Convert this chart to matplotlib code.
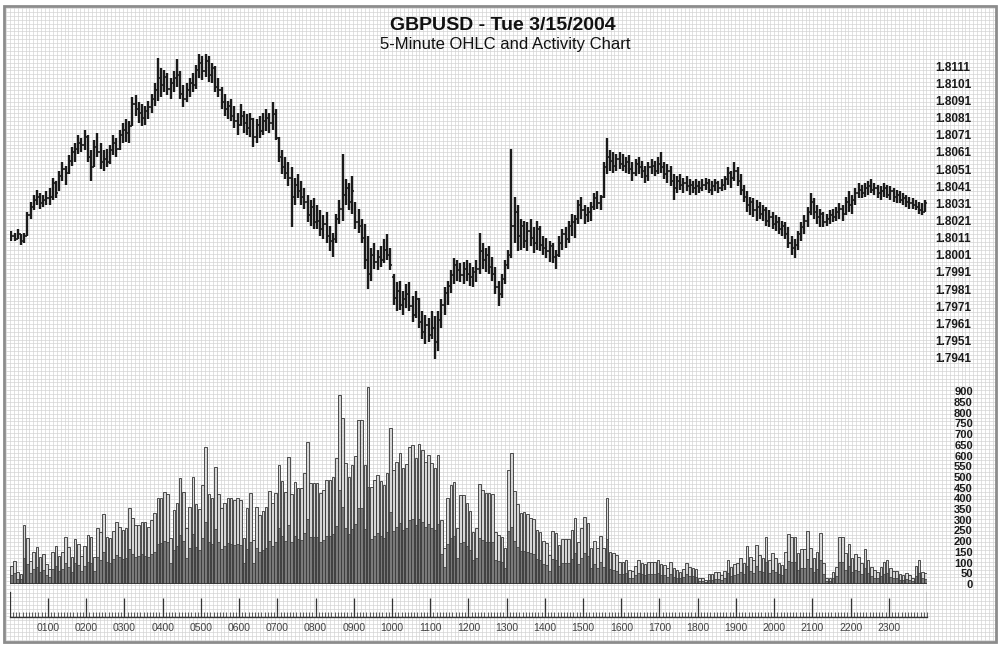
import numpy as np
import matplotlib.pyplot as plt
from matplotlib.patches import Rectangle

plt.rcParams['font.family'] = ['Liberation Sans', 'DejaVu Sans']

# GBPUSD 5-minute bars, 00:00 .. 23:55 (12 bars per row = one hour)
bar_open = [
    1.8010, 1.8012, 1.8010, 1.8013, 1.8009, 1.8012, 1.8024, 1.8029, 1.8033, 1.8035, 1.8031, 1.8033,
    1.8034, 1.8035, 1.8043, 1.8039, 1.8047, 1.8051, 1.8049, 1.8056, 1.8061, 1.8063, 1.8066, 1.8065,
    1.8070, 1.8058, 1.8052, 1.8064, 1.8061, 1.8055, 1.8057, 1.8055, 1.8062, 1.8066, 1.8063, 1.8071,
    1.8074, 1.8072, 1.8076, 1.8089, 1.8086, 1.8084, 1.8081, 1.8085, 1.8087, 1.8092, 1.8097, 1.8104,
    1.8100, 1.8105, 1.8098, 1.8101, 1.8104, 1.8106, 1.8095, 1.8092, 1.8097, 1.8101, 1.8100, 1.8109,
    1.8113, 1.8108, 1.8114, 1.8106, 1.8110, 1.8099, 1.8097, 1.8090, 1.8086, 1.8088, 1.8082, 1.8079,
    1.8077, 1.8082, 1.8078, 1.8075, 1.8080, 1.8070, 1.8077, 1.8073, 1.8079, 1.8081, 1.8078, 1.8083,
    1.8069, 1.8058, 1.8052, 1.8049, 1.8046, 1.8035, 1.8042, 1.8038, 1.8035, 1.8032, 1.8024, 1.8029,
    1.8020, 1.8021, 1.8016, 1.8019, 1.8012, 1.8009, 1.8010, 1.8022, 1.8028, 1.8036, 1.8040, 1.8032,
    1.8030, 1.8020, 1.8018, 1.8011, 1.7998, 1.7990, 1.8001, 1.7997, 1.8000, 1.7998, 1.8004, 1.8001,
    1.7988, 1.7976, 1.7980, 1.7972, 1.7975, 1.7978, 1.7971, 1.7966, 1.7975, 1.7962, 1.7956, 1.7960,
    1.7954, 1.7958, 1.7950, 1.7963, 1.7972, 1.7979, 1.7983, 1.7989, 1.7995, 1.7992, 1.7989, 1.7993,
    1.7990, 1.7988, 1.7991, 1.7993, 1.8003, 1.7998, 1.8001, 1.7994, 1.7990, 1.7982, 1.7978, 1.7987,
    1.7995, 1.8001, 1.8018, 1.8026, 1.8012, 1.8018, 1.8009, 1.8015, 1.8011, 1.8008, 1.8016, 1.8007,
    1.8005, 1.8003, 1.8006, 1.8000, 1.8001, 1.8008, 1.8013, 1.8010, 1.8018, 1.8020, 1.8022, 1.8030,
    1.8027, 1.8024, 1.8026, 1.8029, 1.8034, 1.8031, 1.8035, 1.8052, 1.8058, 1.8056, 1.8053, 1.8057,
    1.8054, 1.8053, 1.8055, 1.8051, 1.8049, 1.8054, 1.8052, 1.8050, 1.8047, 1.8052, 1.8053, 1.8050,
    1.8054, 1.8052, 1.8048, 1.8050, 1.8044, 1.8040, 1.8044, 1.8042, 1.8043, 1.8041, 1.8042, 1.8040,
    1.8041, 1.8040, 1.8042, 1.8043, 1.8039, 1.8041, 1.8043, 1.8040, 1.8042, 1.8045, 1.8049, 1.8046,
    1.8050, 1.8044, 1.8039, 1.8035, 1.8030, 1.8032, 1.8027, 1.8029, 1.8025, 1.8027, 1.8021, 1.8023,
    1.8019, 1.8020, 1.8016, 1.8018, 1.8013, 1.8008, 1.8005, 1.8007, 1.8013, 1.8017, 1.8021, 1.8026,
    1.8032, 1.8026, 1.8023, 1.8025, 1.8020, 1.8022, 1.8024, 1.8023, 1.8026, 1.8028, 1.8025, 1.8032,
    1.8030, 1.8033, 1.8037, 1.8039, 1.8037, 1.8040, 1.8041, 1.8039, 1.8040, 1.8037, 1.8038, 1.8040,
    1.8036, 1.8038, 1.8035, 1.8036, 1.8033, 1.8034, 1.8032, 1.8031, 1.8030, 1.8029, 1.8027, 1.8026,
]
bar_high = [
    1.8015, 1.8014, 1.8016, 1.8013, 1.8014, 1.8026, 1.8032, 1.8036, 1.8039, 1.8037, 1.8036, 1.8038,
    1.8040, 1.8046, 1.8044, 1.8050, 1.8055, 1.8053, 1.8059, 1.8064, 1.8066, 1.8071, 1.8069, 1.8074,
    1.8071, 1.8062, 1.8068, 1.8072, 1.8066, 1.8062, 1.8063, 1.8065, 1.8071, 1.8069, 1.8074, 1.8078,
    1.8080, 1.8079, 1.8093, 1.8094, 1.8090, 1.8089, 1.8088, 1.8091, 1.8095, 1.8101, 1.8116, 1.8110,
    1.8109, 1.8107, 1.8104, 1.8108, 1.8115, 1.8108, 1.8100, 1.8101, 1.8104, 1.8107, 1.8112, 1.8118,
    1.8117, 1.8118, 1.8117, 1.8113, 1.8111, 1.8104, 1.8099, 1.8095, 1.8091, 1.8092, 1.8088, 1.8084,
    1.8089, 1.8085, 1.8083, 1.8084, 1.8081, 1.8080, 1.8082, 1.8084, 1.8086, 1.8084, 1.8090, 1.8086,
    1.8070, 1.8062, 1.8058, 1.8055, 1.8052, 1.8046, 1.8048, 1.8044, 1.8040, 1.8036, 1.8033, 1.8034,
    1.8030, 1.8027, 1.8024, 1.8026, 1.8018, 1.8014, 1.8025, 1.8033, 1.8060, 1.8045, 1.8043, 1.8047,
    1.8032, 1.8028, 1.8022, 1.8019, 1.8012, 1.8005, 1.8008, 1.8004, 1.8006, 1.8010, 1.8013, 1.8005,
    1.7990, 1.7985, 1.7986, 1.7980, 1.7984, 1.7985, 1.7977, 1.7980, 1.7976, 1.7968, 1.7966, 1.7964,
    1.7968, 1.7965, 1.7968, 1.7975, 1.7982, 1.7986, 1.7992, 1.7999, 1.7998, 1.7996, 1.7997, 1.7998,
    1.7996, 1.7994, 1.7998, 1.8014, 1.8008, 1.8005, 1.8006, 1.8000, 1.7994, 1.7986, 1.7990, 1.7998,
    1.8004, 1.8063, 1.8035, 1.8030, 1.8022, 1.8021, 1.8020, 1.8022, 1.8017, 1.8021, 1.8018, 1.8012,
    1.8011, 1.8009, 1.8008, 1.8004, 1.8012, 1.8016, 1.8017, 1.8021, 1.8025, 1.8024, 1.8033, 1.8035,
    1.8030, 1.8029, 1.8032, 1.8037, 1.8038, 1.8036, 1.8055, 1.8069, 1.8062, 1.8061, 1.8060, 1.8061,
    1.8060, 1.8058, 1.8059, 1.8055, 1.8057, 1.8058, 1.8056, 1.8053, 1.8055, 1.8057, 1.8056, 1.8058,
    1.8061, 1.8055, 1.8054, 1.8053, 1.8048, 1.8047, 1.8048, 1.8046, 1.8047, 1.8045, 1.8044, 1.8045,
    1.8044, 1.8045, 1.8046, 1.8045, 1.8044, 1.8045, 1.8044, 1.8045, 1.8047, 1.8052, 1.8050, 1.8055,
    1.8052, 1.8048, 1.8042, 1.8038, 1.8035, 1.8034, 1.8033, 1.8032, 1.8030, 1.8029, 1.8027, 1.8026,
    1.8024, 1.8023, 1.8021, 1.8020, 1.8017, 1.8012, 1.8010, 1.8015, 1.8020, 1.8024, 1.8029, 1.8037,
    1.8034, 1.8030, 1.8028, 1.8026, 1.8025, 1.8027, 1.8028, 1.8029, 1.8031, 1.8030, 1.8035, 1.8038,
    1.8036, 1.8040, 1.8043, 1.8042, 1.8043, 1.8044, 1.8045, 1.8043, 1.8042, 1.8041, 1.8043, 1.8042,
    1.8041, 1.8040, 1.8039, 1.8038, 1.8037, 1.8036, 1.8035, 1.8034, 1.8033, 1.8032, 1.8031, 1.8033,
]
bar_low = [
    1.8009, 1.8009, 1.8010, 1.8007, 1.8008, 1.8012, 1.8022, 1.8027, 1.8030, 1.8028, 1.8029, 1.8030,
    1.8030, 1.8033, 1.8034, 1.8038, 1.8044, 1.8042, 1.8048, 1.8053, 1.8055, 1.8060, 1.8061, 1.8062,
    1.8055, 1.8044, 1.8052, 1.8058, 1.8051, 1.8050, 1.8052, 1.8054, 1.8059, 1.8058, 1.8062, 1.8066,
    1.8067, 1.8066, 1.8076, 1.8082, 1.8078, 1.8076, 1.8077, 1.8080, 1.8084, 1.8088, 1.8091, 1.8093,
    1.8096, 1.8094, 1.8092, 1.8096, 1.8099, 1.8092, 1.8087, 1.8090, 1.8093, 1.8096, 1.8098, 1.8104,
    1.8103, 1.8105, 1.8102, 1.8101, 1.8096, 1.8093, 1.8086, 1.8082, 1.8080, 1.8079, 1.8075, 1.8071,
    1.8076, 1.8072, 1.8071, 1.8070, 1.8064, 1.8066, 1.8069, 1.8071, 1.8073, 1.8072, 1.8074, 1.8068,
    1.8055, 1.8048, 1.8045, 1.8041, 1.8017, 1.8030, 1.8034, 1.8030, 1.8028, 1.8020, 1.8018, 1.8016,
    1.8016, 1.8012, 1.8010, 1.8008, 1.8003, 1.8000, 1.8008, 1.8019, 1.8021, 1.8030, 1.8027, 1.8025,
    1.8016, 1.8014, 1.8008, 1.7993, 1.7981, 1.7986, 1.7993, 1.7992, 1.7994, 1.7996, 1.7998, 1.7992,
    1.7972, 1.7968, 1.7969, 1.7966, 1.7970, 1.7968, 1.7962, 1.7964, 1.7958, 1.7952, 1.7949, 1.7950,
    1.7952, 1.7940, 1.7945, 1.7958, 1.7966, 1.7972, 1.7979, 1.7984, 1.7986, 1.7985, 1.7984, 1.7986,
    1.7983, 1.7982, 1.7985, 1.7990, 1.7993, 1.7991, 1.7990, 1.7986, 1.7978, 1.7971, 1.7976, 1.7984,
    1.7993, 1.7999, 1.8008, 1.8003, 1.8004, 1.8005, 1.8003, 1.8006, 1.8002, 1.8004, 1.8003, 1.8001,
    1.7999, 1.7997, 1.7996, 1.7993, 1.8000, 1.8004, 1.8005, 1.8008, 1.8012, 1.8011, 1.8019, 1.8022,
    1.8019, 1.8020, 1.8021, 1.8027, 1.8028, 1.8027, 1.8034, 1.8048, 1.8050, 1.8049, 1.8050, 1.8051,
    1.8050, 1.8049, 1.8048, 1.8044, 1.8047, 1.8048, 1.8046, 1.8043, 1.8044, 1.8048, 1.8047, 1.8048,
    1.8049, 1.8045, 1.8043, 1.8041, 1.8033, 1.8037, 1.8039, 1.8037, 1.8038, 1.8036, 1.8037, 1.8036,
    1.8037, 1.8038, 1.8039, 1.8037, 1.8036, 1.8038, 1.8037, 1.8038, 1.8039, 1.8042, 1.8040, 1.8044,
    1.8041, 1.8036, 1.8032, 1.8026, 1.8024, 1.8023, 1.8021, 1.8022, 1.8021, 1.8018, 1.8017, 1.8016,
    1.8015, 1.8013, 1.8012, 1.8010, 1.8005, 1.8001, 1.7999, 1.8004, 1.8009, 1.8013, 1.8017, 1.8024,
    1.8022, 1.8019, 1.8017, 1.8017, 1.8018, 1.8019, 1.8020, 1.8021, 1.8022, 1.8021, 1.8024, 1.8026,
    1.8025, 1.8030, 1.8034, 1.8034, 1.8035, 1.8036, 1.8037, 1.8036, 1.8034, 1.8033, 1.8035, 1.8034,
    1.8033, 1.8032, 1.8031, 1.8031, 1.8030, 1.8029, 1.8028, 1.8028, 1.8027, 1.8025, 1.8024, 1.8026,
]
bar_close = [
    1.8012, 1.8010, 1.8013, 1.8009, 1.8012, 1.8024, 1.8029, 1.8033, 1.8035, 1.8031, 1.8033, 1.8034,
    1.8035, 1.8043, 1.8037, 1.8047, 1.8051, 1.8049, 1.8056, 1.8061, 1.8063, 1.8066, 1.8065, 1.8070,
    1.8058, 1.8052, 1.8064, 1.8061, 1.8055, 1.8057, 1.8055, 1.8062, 1.8066, 1.8063, 1.8071, 1.8074,
    1.8072, 1.8076, 1.8089, 1.8086, 1.8084, 1.8081, 1.8085, 1.8087, 1.8092, 1.8097, 1.8104, 1.8100,
    1.8105, 1.8098, 1.8101, 1.8104, 1.8106, 1.8095, 1.8092, 1.8097, 1.8101, 1.8100, 1.8109, 1.8113,
    1.8108, 1.8114, 1.8106, 1.8110, 1.8099, 1.8097, 1.8090, 1.8086, 1.8088, 1.8082, 1.8079, 1.8077,
    1.8082, 1.8078, 1.8075, 1.8080, 1.8070, 1.8077, 1.8073, 1.8079, 1.8081, 1.8078, 1.8083, 1.8071,
    1.8058, 1.8052, 1.8049, 1.8046, 1.8035, 1.8042, 1.8038, 1.8035, 1.8032, 1.8024, 1.8029, 1.8020,
    1.8021, 1.8016, 1.8019, 1.8012, 1.8009, 1.8010, 1.8022, 1.8028, 1.8036, 1.8040, 1.8032, 1.8038,
    1.8020, 1.8018, 1.8011, 1.7998, 1.7990, 1.8001, 1.7997, 1.8000, 1.7998, 1.8004, 1.8001, 1.7995,
    1.7976, 1.7980, 1.7972, 1.7975, 1.7978, 1.7971, 1.7966, 1.7975, 1.7962, 1.7956, 1.7960, 1.7954,
    1.7958, 1.7950, 1.7963, 1.7972, 1.7979, 1.7983, 1.7989, 1.7995, 1.7992, 1.7989, 1.7993, 1.7990,
    1.7988, 1.7991, 1.7993, 1.8003, 1.7998, 1.8001, 1.7994, 1.7990, 1.7982, 1.7978, 1.7987, 1.7995,
    1.8001, 1.8018, 1.8026, 1.8012, 1.8018, 1.8009, 1.8015, 1.8011, 1.8008, 1.8016, 1.8007, 1.8005,
    1.8003, 1.8006, 1.8000, 1.8001, 1.8008, 1.8013, 1.8010, 1.8018, 1.8020, 1.8022, 1.8030, 1.8027,
    1.8024, 1.8026, 1.8029, 1.8034, 1.8031, 1.8035, 1.8052, 1.8058, 1.8056, 1.8053, 1.8057, 1.8054,
    1.8053, 1.8055, 1.8051, 1.8049, 1.8054, 1.8052, 1.8050, 1.8047, 1.8052, 1.8053, 1.8050, 1.8054,
    1.8052, 1.8048, 1.8050, 1.8044, 1.8040, 1.8044, 1.8042, 1.8043, 1.8041, 1.8042, 1.8040, 1.8041,
    1.8040, 1.8042, 1.8043, 1.8039, 1.8041, 1.8043, 1.8040, 1.8042, 1.8045, 1.8049, 1.8046, 1.8050,
    1.8044, 1.8039, 1.8035, 1.8030, 1.8032, 1.8027, 1.8029, 1.8025, 1.8027, 1.8021, 1.8023, 1.8019,
    1.8020, 1.8016, 1.8018, 1.8013, 1.8008, 1.8005, 1.8007, 1.8013, 1.8017, 1.8021, 1.8026, 1.8032,
    1.8026, 1.8023, 1.8025, 1.8020, 1.8022, 1.8024, 1.8023, 1.8026, 1.8028, 1.8025, 1.8032, 1.8030,
    1.8033, 1.8037, 1.8039, 1.8037, 1.8040, 1.8041, 1.8039, 1.8040, 1.8037, 1.8038, 1.8040, 1.8036,
    1.8038, 1.8035, 1.8036, 1.8033, 1.8034, 1.8032, 1.8031, 1.8030, 1.8029, 1.8027, 1.8026, 1.8031,
]

# activity per bar: total ticks and the darker (down) part
activity_total = [
    86, 109, 55, 47, 275, 215, 109, 148, 171, 125, 140, 93,
    70, 151, 179, 132, 148, 221, 171, 125, 210, 187, 132, 179,
    229, 221, 125, 260, 244, 327, 221, 213, 247, 291, 268, 252,
    260, 353, 307, 276, 276, 291, 291, 265, 300, 330, 400, 400,
    428, 420, 213, 346, 377, 494, 430, 260, 360, 498, 373, 350,
    462, 641, 420, 400, 548, 420, 353, 380, 404, 400, 392, 403,
    392, 213, 353, 423, 205, 361, 322, 340, 361, 434, 380, 423,
    556, 480, 431, 594, 420, 478, 447, 447, 520, 661, 470, 470,
    470, 423, 440, 486, 486, 500, 587, 882, 774, 563, 500, 556,
    600, 766, 766, 556, 921, 455, 486, 509, 480, 462, 520, 727,
    532, 571, 610, 540, 560, 641, 649, 590, 652, 626, 571, 602,
    563, 540, 602, 300, 166, 400, 462, 478, 260, 416, 416, 380,
    341, 244, 260, 465, 440, 427, 427, 420, 244, 229, 220, 166,
    532, 610, 434, 376, 330, 335, 325, 307, 302, 252, 244, 200,
    190, 135, 247, 240, 182, 210, 210, 210, 250, 307, 197, 260,
    314, 283, 166, 200, 166, 226, 170, 403, 150, 143, 135, 104,
    104, 112, 65, 61, 85, 112, 100, 92, 104, 104, 104, 112,
    95, 89, 75, 104, 73, 65, 58, 70, 96, 80, 77, 70,
    30, 26, 19, 45, 45, 54, 54, 42, 60, 112, 80, 92,
    96, 120, 100, 179, 128, 110, 182, 135, 120, 218, 112, 143,
    120, 100, 89, 150, 232, 221, 221, 143, 163, 163, 247, 166,
    120, 150, 240, 96, 30, 30, 58, 80, 218, 218, 143, 185,
    120, 140, 128, 100, 163, 112, 80, 65, 58, 80, 104, 112,
    73, 60, 61, 45, 42, 51, 40, 30, 82, 112, 58, 50,
]
activity_down = [
    40, 52, 25, 22, 120, 95, 50, 70, 80, 55, 66, 42,
    33, 70, 85, 60, 72, 100, 80, 58, 96, 88, 60, 84,
    105, 100, 60, 125, 112, 150, 104, 98, 118, 135, 126, 115,
    122, 165, 140, 128, 130, 138, 132, 124, 142, 150, 185, 190,
    200, 195, 100, 160, 176, 230, 200, 120, 170, 232, 175, 160,
    215, 290, 195, 188, 255, 196, 165, 176, 190, 186, 180, 188,
    182, 100, 165, 198, 96, 168, 150, 158, 170, 200, 176, 196,
    260, 222, 200, 275, 195, 222, 208, 206, 240, 305, 218, 220,
    218, 196, 205, 225, 226, 232, 272, 440, 360, 262, 232, 258,
    278, 355, 356, 258, 455, 210, 226, 236, 222, 214, 242, 338,
    246, 265, 284, 250, 260, 298, 302, 274, 305, 290, 265, 280,
    262, 250, 280, 140, 78, 186, 215, 222, 120, 193, 194, 176,
    158, 113, 120, 216, 205, 198, 198, 195, 113, 106, 102, 77,
    248, 268, 202, 175, 153, 156, 151, 143, 140, 117, 113, 93,
    88, 63, 115, 112, 85, 98, 97, 98, 116, 143, 92, 121,
    146, 132, 77, 93, 77, 105, 79, 210, 70, 66, 63, 48,
    48, 52, 30, 28, 40, 52, 46, 43, 48, 48, 49, 52,
    44, 41, 35, 48, 34, 30, 27, 33, 45, 37, 36, 32,
    14, 12, 9, 21, 21, 25, 25, 20, 28, 52, 37, 43,
    45, 56, 46, 83, 60, 51, 85, 63, 56, 101, 52, 66,
    56, 46, 41, 70, 108, 103, 103, 66, 76, 76, 115, 77,
    56, 70, 112, 45, 14, 14, 27, 37, 101, 101, 66, 86,
    56, 65, 60, 46, 76, 52, 37, 30, 27, 37, 48, 52,
    34, 28, 28, 21, 20, 24, 19, 14, 38, 52, 27, 23,
]

price_ticks = [1.7941, 1.7951, 1.7961, 1.7971, 1.7981, 1.7991, 1.8001, 1.8011, 1.8021,
               1.8031, 1.8041, 1.8051, 1.8061, 1.8071, 1.8081, 1.8091, 1.8101, 1.8111]
activity_ticks = [0, 50, 100, 150, 200, 250, 300, 350, 400, 450, 500, 550,
                  600, 650, 700, 750, 800, 850, 900]
hour_labels = ['0100', '0200', '0300', '0400', '0500', '0600', '0700', '0800',
               '0900', '1000', '1100', '1200', '1300', '1400', '1500', '1600',
               '1700', '1800', '1900', '2000', '2100', '2200', '2300']

n_bars = len(bar_close)
x = np.arange(n_bars) + 0.5

W, H = 1000, 645
fig = plt.figure(figsize=(W / 100, H / 100), dpi=100)


def px_axes(left, top, right, bottom):
    # axes placed by pixel box
    return fig.add_axes([left / W, 1 - bottom / H, (right - left) / W, (bottom - top) / H])


# graph paper background + frame
bg = fig.add_axes([0, 0, 1, 1])
bg.set_xlim(0, W)
bg.set_ylim(H, 0)
bg.axis('off')
bg.vlines(np.arange(6, 995, 3.9), 7, 641, color='#d4d4d4', lw=0.5, zorder=0)
bg.hlines(np.arange(8, 641, 3.9), 5, 995, color='#d4d4d4', lw=0.5, zorder=0)
bg.add_patch(Rectangle((4, 6), 992, 636, fill=False, ec='#8c8c8c', lw=2.0))

fig.text(0.503, 1 - 25 / H, 'GBPUSD - Tue 3/15/2004', ha='center', va='center',
         fontsize=14, fontweight='bold', color='#111')
fig.text(0.505, 1 - 44.5 / H, '5-Minute OHLC and Activity Chart', ha='center', va='center',
         fontsize=12, color='#111')

# price panel
ax = px_axes(9.8, 50, 927, 365)
ax.set_facecolor('none')
ax.set_xlim(0, n_bars)
ax.set_ylim(1.79367, 1.81205)
for s in ax.spines.values():
    s.set_visible(False)
ax.vlines(x, bar_low, bar_high, color='#1a1a1a', lw=1.7)
ax.hlines(bar_open, x - 0.5, x, color='#1a1a1a', lw=1.2)
ax.hlines(bar_close, x, x + 0.5, color='#1a1a1a', lw=1.2)
ax.set_xticks([])
ax.yaxis.tick_right()
ax.set_yticks(price_ticks)
ax.set_yticklabels(['%.4f' % p for p in price_ticks])
ax.tick_params(axis='y', length=0, pad=5.8, labelsize=8.5, labelcolor='#1a1a1a')
for t in ax.get_yticklabels():
    t.set_fontweight('bold')

# activity panel
av = px_axes(9.8, 385, 927, 584)
av.set_facecolor('none')
av.set_xlim(0, n_bars)
av.set_ylim(0, 929.5)
for s in av.spines.values():
    s.set_visible(False)
av.bar(x, activity_total, width=0.82, color='#d6d6d6', edgecolor='#333333', lw=0.6)
av.bar(x, activity_down, width=0.82, color='#7a7a7a', edgecolor='#333333', lw=0.5)
av.axhline(0, color='#333333', lw=1.2)
av.set_xticks([])
av.yaxis.tick_right()
av.set_yticks(activity_ticks)
av.set_yticklabels([str(v) for v in activity_ticks])
av.tick_params(axis='y', length=0, pad=33, labelsize=8, labelcolor='#1a1a1a')
for t in av.get_yticklabels():
    t.set_ha('right')
    t.set_fontweight('bold')

# time axis
at = px_axes(9.8, 587, 927, 617)
at.set_facecolor('none')
at.set_xlim(0, n_bars)
at.set_ylim(0, 1)
for k in ('top', 'left', 'right'):
    at.spines[k].set_visible(False)
at.spines['bottom'].set_color('#333333')
at.spines['bottom'].set_linewidth(1.0)
at.set_yticks([])
at.set_xticks(np.arange(12, n_bars, 12))
at.set_xticklabels(hour_labels)
at.set_xticks(np.arange(0, n_bars + 1), minor=True)
at.tick_params(axis='x', which='major', direction='in', length=13.7, width=0.9,
               color='#333333', pad=4, labelsize=7.5, labelcolor='#444444')
at.tick_params(axis='x', which='minor', direction='in', length=3.6, width=0.6,
               color='#444444')
at.axvline(0, ymin=0, ymax=25 / 30, color='#333333', lw=0.9)
at.axvline(n_bars, ymin=0, ymax=25 / 30, color='#333333', lw=0.9)

fig.savefig('out.png', dpi=100)
